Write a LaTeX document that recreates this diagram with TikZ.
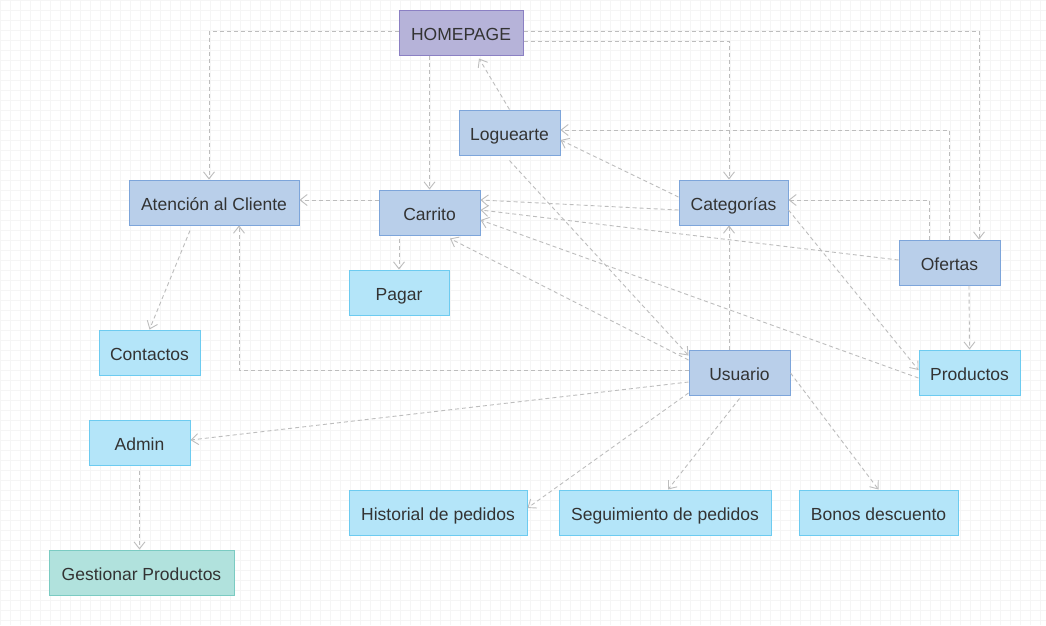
\documentclass[tikz,border=0pt]{standalone}
\RequirePackage{fontspec}
\RequirePackage{tikz}
\usetikzlibrary{arrows.meta}
\setmainfont{Liberation Sans}
\definecolor{gridgray}{HTML}{F5F5F5}
\definecolor{linkgray}{HTML}{BDBDBD}
\definecolor{textgray}{HTML}{333333}
\definecolor{homefill}{HTML}{B6B3D9}
\definecolor{homedraw}{HTML}{8B80C3}
\definecolor{bluefill}{HTML}{B9CFEA}
\definecolor{bluedraw}{HTML}{7DA5DA}
\definecolor{cyanfill}{HTML}{B4E5F9}
\definecolor{cyandraw}{HTML}{6DCBF0}
\definecolor{tealfill}{HTML}{B1E2DD}
\definecolor{tealdraw}{HTML}{7BCBC2}
\tikzset{
    pagebox/.style={rectangle, line width=1pt, inner sep=0pt, minimum height=45pt,
        text height=15pt, text depth=0pt,
        text=textgray, font=\fontsize{17.5}{20}\selectfont},
    homebox/.style={pagebox, fill=homefill, draw=homedraw},
    bluebox/.style={pagebox, fill=bluefill, draw=bluedraw},
    cyanbox/.style={pagebox, fill=cyanfill, draw=cyandraw},
    tealbox/.style={pagebox, fill=tealfill, draw=tealdraw},
    link/.style={draw=linkgray, line width=0.9pt, dash pattern=on 4pt off 3pt,
        -{Straight Barb[length=7pt,width=11pt,line width=0.9pt]}},
}
\begin{document}
\begin{tikzpicture}[x=1pt,y=-1pt]
                    \useasboundingbox (0,0) rectangle (1046,625);
                    \fill[white] (0,0) rectangle (1046,625);
                    \draw[gridgray, line width=0.8pt, step=10pt] (0,0) grid (1046,625);

                    \node[homebox, minimum width=124pt] (home) at (461,32.5) {HOMEPAGE};
                    \node[bluebox, minimum width=101pt] (loguearte) at (509.5,132.5) {Loguearte};
                    \node[bluebox, minimum width=170pt] (atencion) at (214,202.5) {Atención al Cliente};
                    \node[bluebox, minimum width=101pt] (carrito) at (429.5,212.5) {Carrito};
                    \node[cyanbox, minimum width=100pt] (pagar) at (399,292.5) {Pagar};
                    \node[cyanbox, minimum width=101pt] (contactos) at (149.5,352.5) {Contactos};
                    \node[bluebox, minimum width=109pt] (categorias) at (733.5,202.5) {Categorías};
                    \node[bluebox, minimum width=101pt] (ofertas) at (949.5,262.5) {Ofertas};
                    \node[bluebox, minimum width=101pt] (usuario) at (739.5,372.5) {Usuario};
                    \node[cyanbox, minimum width=101pt] (productos) at (969.5,372.5) {Productos};
                    \node[cyanbox, minimum width=101pt] (admin) at (139.5,442.5) {Admin};
                    \node[tealbox, minimum width=185pt] (gestionar) at (141.5,572.5) {Gestionar Productos};
                    \node[cyanbox, minimum width=178pt] (historial) at (438,512.5) {Historial de pedidos};
                    \node[cyanbox, minimum width=212pt] (seguimiento) at (665,512.5) {Seguimiento de pedidos};
                    \node[cyanbox, minimum width=159pt] (bonos) at (878.5,512.5) {Bonos descuento};

                    \draw[link] ([yshift=1.5pt]home.west) -| ([xshift=-5pt]atencion.north);
                    \draw[link] (carrito.north |- home.south) -- (carrito.north);
                    \draw[link] ([yshift=-8.5pt]home.east) -| ([xshift=-4.5pt]categorias.north);
                    \draw[link] ([yshift=1.5pt]home.east) -| ([xshift=29.5pt]ofertas.north);
                    \draw[link] (loguearte.north) -- ([xshift=18pt,yshift=-3pt]home.south);
                    \draw[link] ([xshift=-0.5pt]ofertas.north) |- ([yshift=2.5pt]loguearte.east);
                    \draw[link] ([xshift=-20.5pt]ofertas.north) |- ([yshift=2.5pt]categorias.east);
                    \draw[link] ([yshift=5.5pt]categorias.west) -- ([yshift=-7.5pt]loguearte.east);
                    \draw[link] ([yshift=-7.5pt]categorias.west) -- ([yshift=12.5pt]carrito.east);
                    \draw[link] ([yshift=2.5pt]ofertas.west) -- ([yshift=2.5pt]carrito.east);
                    \draw[link] ([yshift=-5.5pt]productos.west) -- ([yshift=-7.5pt]carrito.east);
                    \draw[link] ([yshift=12.5pt]usuario.west) -- ([xshift=20.5pt,yshift=-3pt]carrito.south);
                    \draw[link] ([yshift=-5pt]loguearte.south) -- ([yshift=-6pt]usuario.north west);
                    \draw[link] ([yshift=2.5pt]usuario.west) -| ([xshift=25pt]atencion.south);
                    \draw[link] ([xshift=-10.5pt]usuario.north) -- ([xshift=-4.5pt]categorias.south);
                    \draw[link] ([yshift=-9.5pt]usuario.west) -- ([yshift=2.5pt]admin.east);
                    \draw[link] ([yshift=-20.5pt]usuario.west) -- ([yshift=4.5pt]historial.east);
                    \draw[link] ([yshift=-3pt]usuario.south) -- ([xshift=3pt]seguimiento.north);
                    \draw[link] ([yshift=-0.5pt]usuario.east) -- (bonos.north);
                    \draw[link] ([xshift=-30.5pt,yshift=-3pt]carrito.south) -- (pagar.north);
                    \draw[link] ([yshift=12.5pt]carrito.west) -- ([yshift=2.5pt]atencion.east);
                    \draw[link] ([xshift=-24pt,yshift=-5pt]atencion.south) -- (contactos.north);
                    \draw[link] ([yshift=-7.5pt]categorias.east) -- ([yshift=2.5pt]productos.west);
                    \draw[link] ([xshift=19.5pt]ofertas.south) -- (productos.north);
                    \draw[link] ([yshift=-5pt]admin.south) -- (admin.south |- gestionar.north);
\end{tikzpicture}
\end{document}
